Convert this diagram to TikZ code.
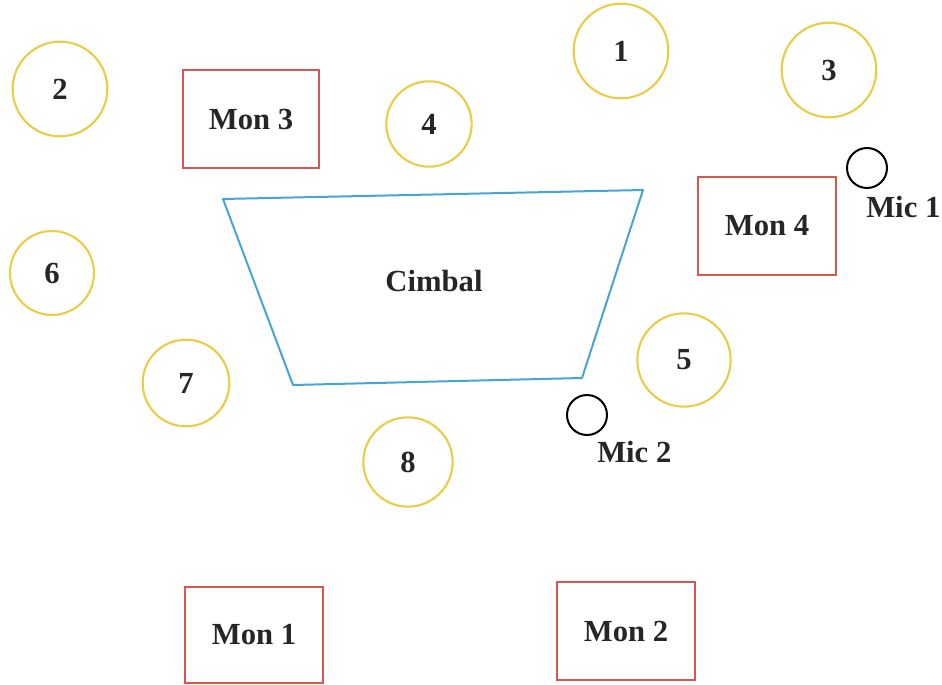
\documentclass[tikz,border=0pt]{standalone}
\usepackage{fontspec}
\setmainfont{Liberation Serif}
\definecolor{seatyellow}{RGB}{234,204,70}
\definecolor{monred}{RGB}{214,86,80}
\definecolor{cimblue}{RGB}{70,165,215}
\begin{document}
\begin{tikzpicture}[x=0.75pt,y=-0.75pt,
  lbl/.style={font=\fontsize{23}{27}\selectfont\bfseries, text=black!85},
  seat/.style={circle, draw=seatyellow, line width=1.6pt, inner sep=0pt, lbl},
  mon/.style={rectangle, draw=monred, line width=1.5pt, inner sep=0pt, lbl},
  mic/.style={circle, draw=black, line width=1.5pt, inner sep=0pt, minimum size=30pt}]
\useasboundingbox (0,0) rectangle (942,685);
\clip (0,0) rectangle (942,685);
% seats
\node[seat, minimum size=71pt] (s1) at (621,51) {1};
\node[seat, minimum size=71pt] (s2) at (60,89) {2};
\node[seat, minimum size=71pt] (s3) at (829,70) {3};
\node[seat, minimum size=64pt] (s4) at (429,124) {4};
\node[seat, minimum size=70pt] (s5) at (684,360) {5};
\node[seat, minimum size=63pt] (s6) at (52,273) {6};
\node[seat, minimum size=65pt] (s7) at (186,383) {7};
\node[seat, minimum size=67pt] (s8) at (408,462) {8};
% monitors
\node[mon, minimum width=102pt, minimum height=73pt] (m3) at (251,119) {Mon 3};
\node[mon, minimum width=103pt, minimum height=73pt] (m4) at (767,226) {Mon 4};
\node[mon, minimum width=103pt, minimum height=72pt] (m1) at (254,635) {Mon 1};
\node[mon, minimum width=103pt, minimum height=74pt] (m2) at (626,631) {Mon 2};
% cimbal
\draw[cimblue, line width=1.5pt, line join=round] (223,199) coordinate (ctl) -- (643,190) coordinate (ctr) -- (582,378) coordinate (cbr) -- (293,385) coordinate (cbl) -- cycle;
\node[lbl] (cim) at (434,281) {Cimbal};
% mics
\node[mic] (mic1) at (867,168) {};
\node[lbl, anchor=north west, inner sep=0pt] (mic1l) at (866,196) {Mic 1};
\node[mic] (mic2) at (587,415) {};
\node[lbl, anchor=north west, inner sep=0pt] (mic2l) at (597,441) {Mic 2};
\end{tikzpicture}
\end{document}
